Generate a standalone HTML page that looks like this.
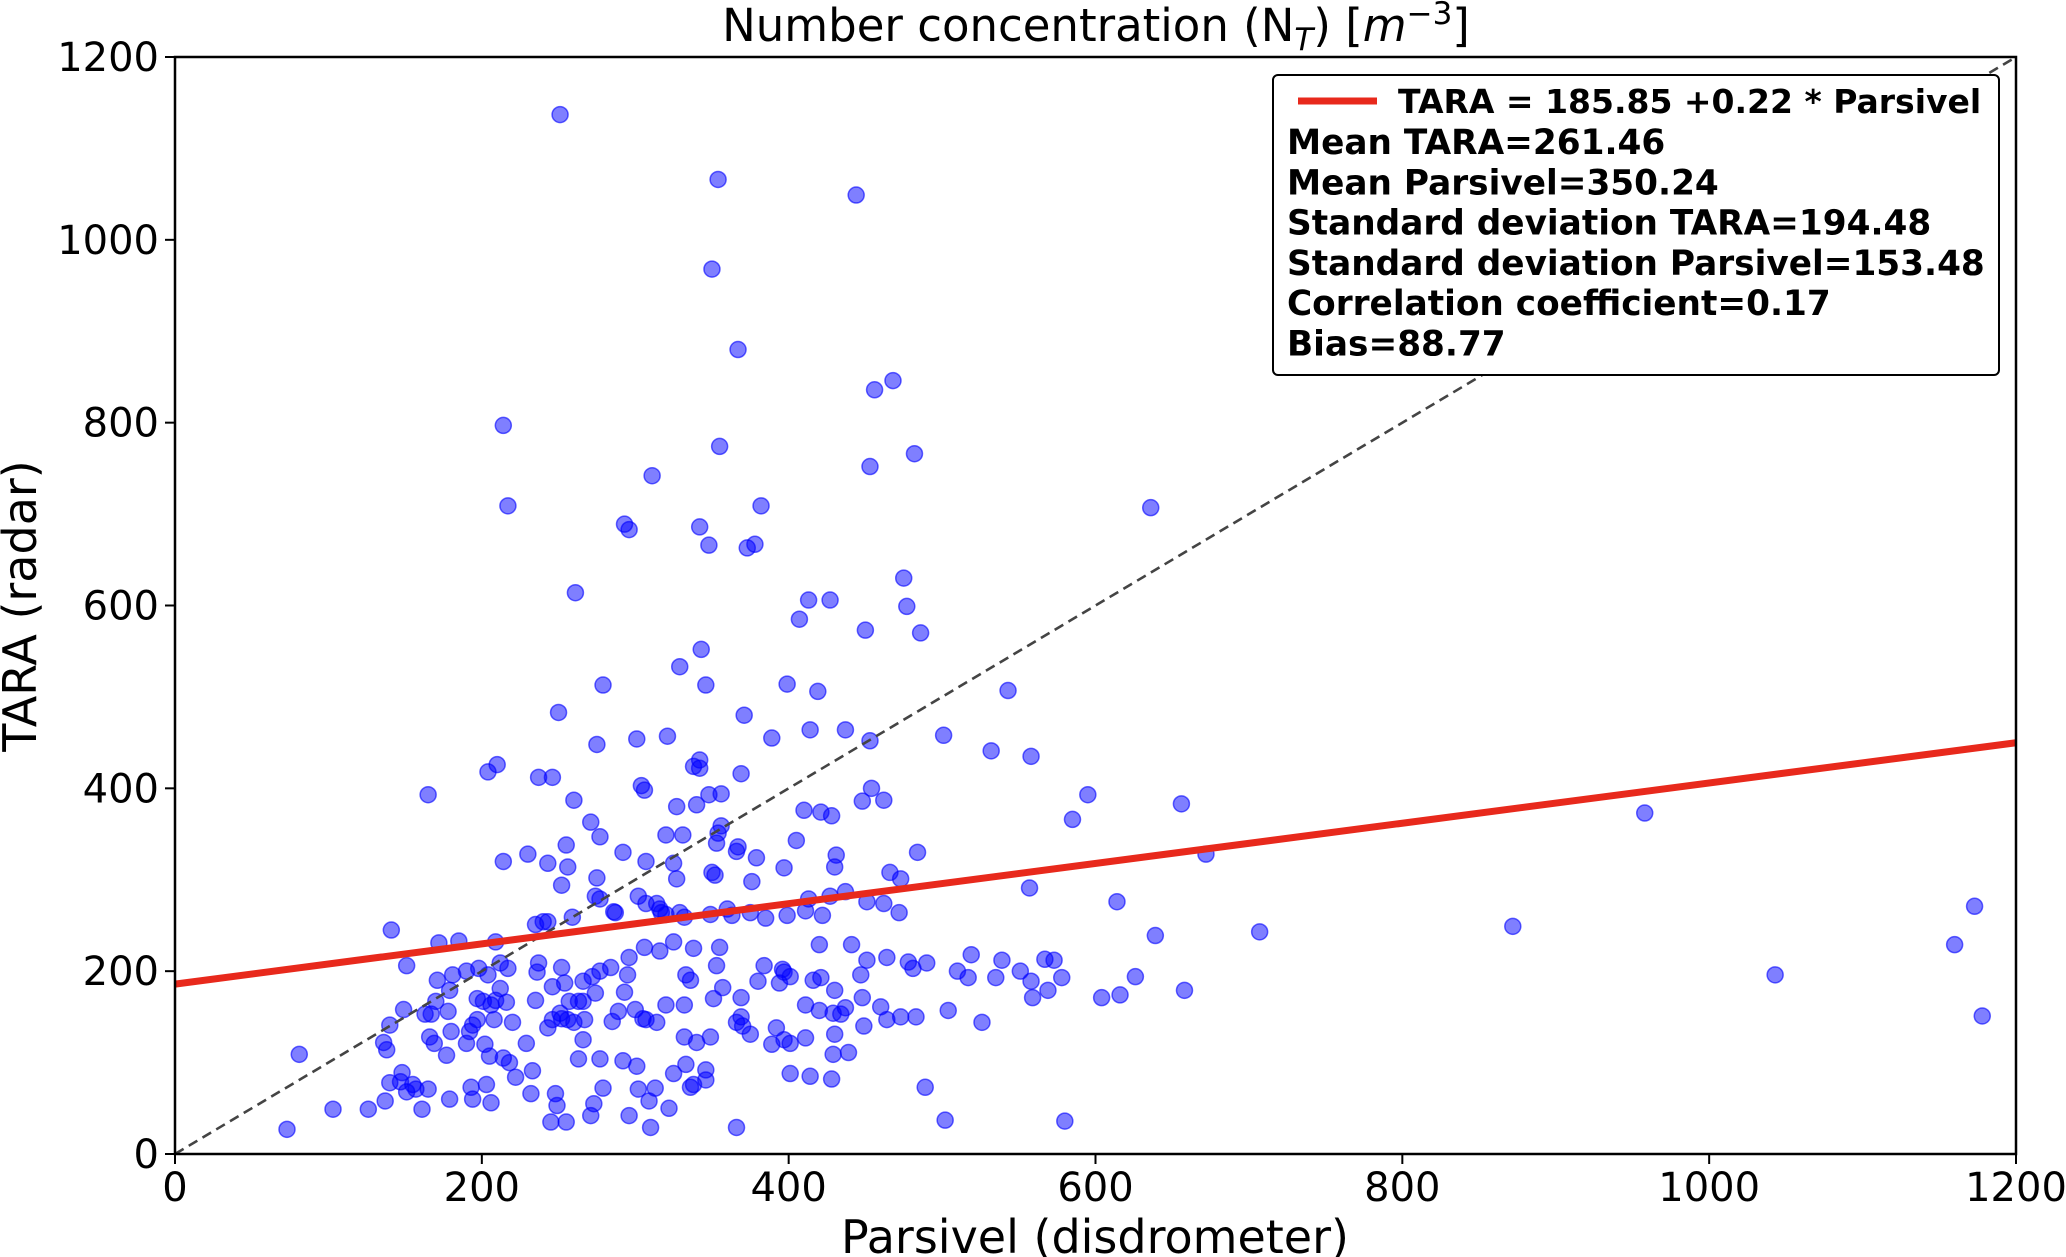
<!DOCTYPE html>
<html><head><meta charset="utf-8">
<style>
body{margin:0;background:#fff;}
svg{display:block;font-family:"DejaVu Sans","Liberation Sans",sans-serif;}
</style></head>
<body>
<svg id="chart" width="2066" height="1257" viewBox="0 0 2066 1257" xmlns="http://www.w3.org/2000/svg">
<g id="plot"></g>
</svg>
<script>
const parsivelValues=[251,354,444,350,367,456,468,214,482,355,311,453,217,382,636,293,296,342,348,378,373,475,261,413,427,477,407,450,486,343,279,329,346,399,419,543,250,371,501,301,321,389,414,437,453,275,532,558,210,204,342,342,338,369,237,246,595,454,304,306,327,348,356,448,462,656,165,260,340,410,428,421,585,271,356,354,320,331,353,367,366,277,255,405,431,484,292,214,230,243,256,307,325,397,379,430,672,350,352,327,376,466,473,275,437,413,427,557,614,451,252,274,277,302,307,314,316,317,320,329,332,286,287,259,243,240,349,360,363,375,385,399,411,422,472,462,958,1173,1160,1178,1043,872,707,639,626,616,604,658,573,578,567,558,559,569,551,539,535,519,517,510,490,478,464,451,447,441,448,460,449,420,430,416,421,411,420,429,434,396,401,394,397,384,380,369,392,397,401,389,411,430,429,401,414,369,366,375,370,357,353,355,338,333,336,325,316,306,296,295,284,277,272,266,252,254,237,236,246,235,217,212,204,198,190,181,171,212,216,209,206,201,197,194,197,192,208,178,179,170,163,149,140,136,138,166,167,180,169,177,190,202,229,243,246,252,256,251,260,257,263,266,274,267,285,305,307,314,266,263,277,279,292,301,302,309,310,296,273,271,248,249,245,255,232,233,222,214,218,205,203,206,193,194,179,165,155,147,148,140,151,157,161,137,126,103,73,81,333,346,346,336,338,322,366,313,325,332,340,349,428,439,464,473,483,489,502,580,526,504,481,437,332,320,351,300,220,209,185,172,151,141,289,293,235];
const taraValues=[1137,1066,1049,968,880,836,846,797,766,774,742,752,709,709,707,689,683,686,666,667,663,630,614,606,606,599,585,573,570,552,513,533,513,514,506,507,483,480,458,454,457,455,464,464,452,448,441,435,426,418,431,422,424,416,412,412,393,400,403,398,380,393,394,386,387,383,393,387,382,376,370,374,366,363,359,351,349,349,340,336,331,347,338,343,327,330,330,320,328,318,314,320,318,313,324,314,328,308,305,301,298,308,301,302,287,279,282,291,276,276,294,282,279,282,274,274,268,264,262,264,259,265,264,259,254,254,262,268,261,264,258,261,266,261,264,274,373,271,229,151,196,249,243,239,194,174,171,179,212,193,213,189,171,179,200,212,193,218,193,200,209,210,215,212,196,229,171,161,140,229,179,190,193,163,157,154,153,202,194,187,199,206,189,171,138,125,121,120,127,131,109,88,85,150,144,131,140,182,206,226,225,196,190,232,222,226,215,196,204,200,194,189,204,187,209,199,183,168,203,209,196,203,200,196,190,181,166,168,163,167,170,141,147,134,147,156,179,167,153,158,141,122,114,128,153,134,121,108,121,120,121,138,147,148,147,154,144,167,167,167,176,147,145,148,147,144,125,104,104,72,102,96,71,58,29,42,55,42,66,53,35,35,66,91,84,105,100,107,76,56,73,60,60,71,76,79,89,78,68,71,49,58,49,49,27,109,98,92,81,73,76,50,29,72,88,128,122,128,82,111,147,150,150,73,37,36,144,157,203,160,163,163,170,158,144,232,233,231,206,245,156,177,251];
const xTicks=[0,200,400,600,800,1000,1200];
const yTicks=[0,200,400,600,800,1000,1200];
const fitIntercept=185.85, fitSlope=0.22;
const legendLines=["Mean TARA=261.46","Mean Parsivel=350.24","Standard deviation TARA=194.48","Standard deviation Parsivel=153.48","Correlation coefficient=0.17","Bias=88.77"];

const X0=175,X1=2016,Y0=1154,Y1=57;
const sx=v=>X0+(v/1200)*(X1-X0);
const sy=v=>Y0-(v/1200)*(Y0-Y1);
const NS="http://www.w3.org/2000/svg";
const svg=document.getElementById('chart');
function mk(tag,attrs,parent){const e=document.createElementNS(NS,tag);for(const k in attrs)e.setAttribute(k,attrs[k]);(parent||svg).appendChild(e);return e;}

const pg=mk('g',{});


for(let i=0;i<parsivelValues.length;i++){
  const c=mk('circle',{cx:sx(parsivelValues[i]),cy:sy(taraValues[i]),r:8,fill:'rgba(0,0,255,0.5)',stroke:'rgba(0,0,255,0.6)','stroke-width':1.5},pg);
  
  
}
const d=mk('line',{x1:sx(0),y1:sy(0),x2:sx(1200),y2:sy(1200),stroke:'#444','stroke-width':2.6,'stroke-dasharray':'10,6'});


const f=mk('line',{x1:sx(0),y1:sy(fitIntercept),x2:sx(1200),y2:sy(fitIntercept+fitSlope*1200),stroke:'#e8291c','stroke-width':7});


const fr=mk('rect',{x:X0,y:Y1,width:X1-X0,height:Y0-Y1,fill:'none',stroke:'#000','stroke-width':2.5});


xTicks.forEach(t=>{
  const l=mk('line',{x1:sx(t),y1:Y0,x2:sx(t),y2:Y0+10,stroke:'#000','stroke-width':2});
  
  
  const tx=mk('text',{x:sx(t),y:Y0+47,'font-size':40,'text-anchor':'middle'});
  tx.textContent=t;
  
  
});
yTicks.forEach(t=>{
  const l=mk('line',{x1:X0-10,y1:sy(t),x2:X0,y2:sy(t),stroke:'#000','stroke-width':2});
  
  
  const tx=mk('text',{x:X0-16,y:sy(t)+14,'font-size':40,'text-anchor':'end'});
  tx.textContent=t;
  
  
});
const lg=mk('g',{});


mk('rect',{x:1273,y:75,width:726,height:300,rx:5,fill:'#fff',stroke:'#000','stroke-width':2},lg);
mk('line',{x1:1298,y1:101,x2:1377,y2:101,stroke:'#e8291c','stroke-width':7},lg);
const lt=mk('text',{x:1398,y:113,'font-size':33,'font-weight':'bold'},lg);
lt.textContent='TARA = 185.85 +0.22 * Parsivel';


legendLines.forEach((s,i)=>{
  const t=mk('text',{x:1287,y:154+i*40.3,'font-size':34.3,'font-weight':'bold'},lg);
  t.textContent=s;
  
  
});
const ti=mk('text',{x:1096,y:41,'font-size':45,'text-anchor':'middle'});
ti.innerHTML='Number concentration (N<tspan font-size="31" dy="9" font-style="italic">T</tspan><tspan dy="-9">) [</tspan><tspan font-style="italic">m</tspan><tspan font-size="31" dy="-17">−3</tspan><tspan dy="17">]</tspan>';


const xl=mk('text',{x:1095,y:1253,'font-size':46,'text-anchor':'middle'});
xl.textContent='Parsivel (disdrometer)';


const yl=mk('text',{x:36,y:606,'font-size':46,'text-anchor':'middle',transform:'rotate(-90 36 606)'});
yl.textContent='TARA (radar)';


</script>
</body></html>
